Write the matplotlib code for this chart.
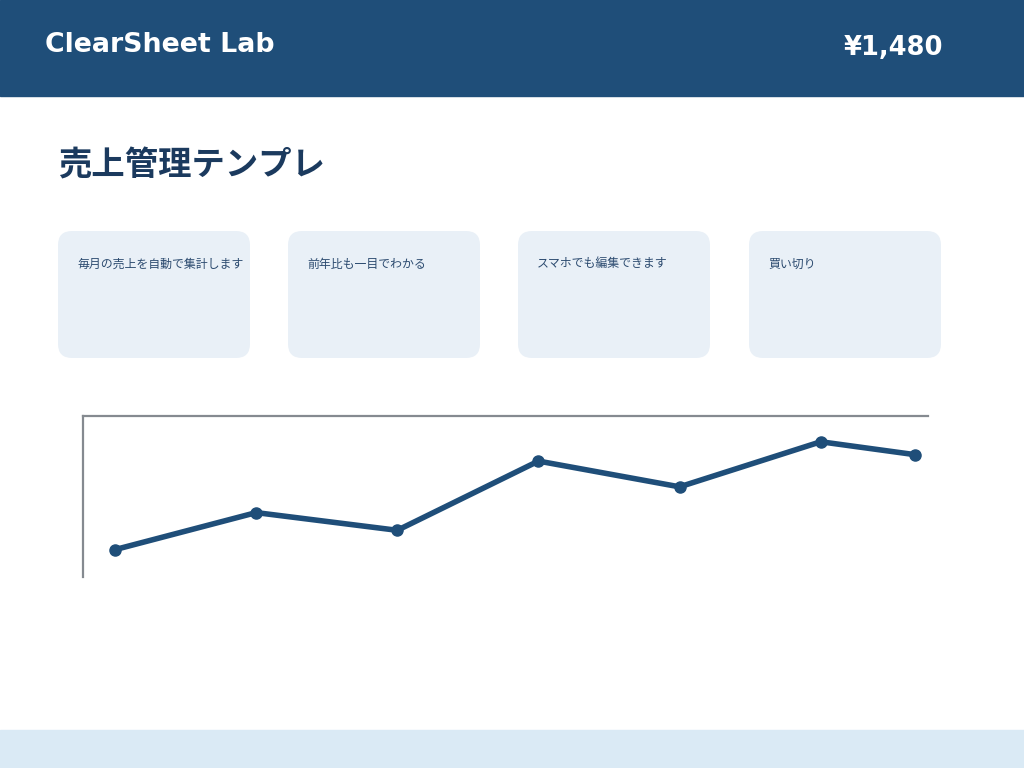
import matplotlib
matplotlib.use('Agg')
import matplotlib.pyplot as plt
from matplotlib.patches import Rectangle, FancyBboxPatch

# header / page text
brand = "ClearSheet Lab"
price = "¥1,480"
page_title = "売上管理テンプレ"
card_labels = ["毎月の売上を自動で集計します", "前年比も一目でわかる", "スマホでも編集できます", "買い切り"]

# series
days = [1, 4, 7, 10, 13, 16, 18]
sales = [17, 40, 29, 72, 56, 84, 76]

plt.rcParams['font.family'] = ['DejaVu Sans', 'Noto Sans CJK JP']

navy = '#1F4E79'
fig = plt.figure(figsize=(10.24, 7.68), dpi=100)
fig.patch.set_facecolor('white')

# page layer in pixel coordinates
bg = fig.add_axes([0, 0, 1, 1])
bg.set_xlim(0, 1024)
bg.set_ylim(768, 0)
bg.axis('off')

bg.add_patch(Rectangle((0, 0), 1024, 96, color=navy, zorder=0))
bg.add_patch(Rectangle((0, 730), 1024, 38, color='#DAEAF5', zorder=0))
bg.text(45, 45, brand, color='white', fontsize=19.3, fontweight='bold', va='center', ha='left')
bg.text(943, 48, price, color='white', fontsize=18.5, fontweight='bold', va='center', ha='right')
bg.text(58, 166, page_title, color='#1B3A5E', fontsize=24, fontweight='bold', va='center', ha='left')

card_x = [58, 288, 518, 749]
for cx, label in zip(card_x, card_labels):
    bg.add_patch(FancyBboxPatch((cx + 14, 231 + 14), 192 - 28, 127 - 28,
                                boxstyle='round,pad=14', facecolor='#E9F0F7',
                                edgecolor='none', zorder=1))
    bg.text(cx + 19, 264, label, color='#2B4A6F', fontsize=8.6, va='center', ha='left', zorder=2)

# line chart
ax = fig.add_axes([83 / 1024, 1 - 577 / 768, 845 / 1024, 161 / 768])
ax.patch.set_alpha(0)
ax.plot(days, sales, color=navy, linewidth=4, marker='o', markersize=8, solid_capstyle='round')
ax.set_xlim(0.32, 18.28)
ax.set_ylim(0, 100)
for side in ['right', 'bottom']:
    ax.spines[side].set_visible(False)
for side in ['left', 'top']:
    ax.spines[side].set_color('#858A90')
    ax.spines[side].set_linewidth(1.6)
ax.set_xticks([])
ax.set_yticks([])

fig.savefig('out.png', dpi=100)
